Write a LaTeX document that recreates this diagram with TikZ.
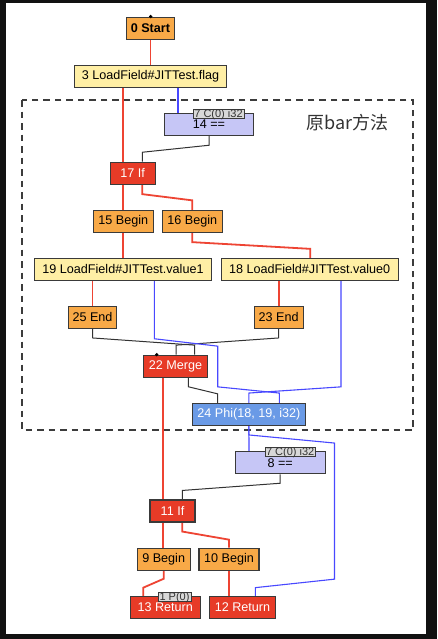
\documentclass[tikz,border=0pt]{standalone}
\usepackage{fontspec}
\setmainfont{Liberation Sans}
\newfontfamily\cjkfont{Noto Sans CJK SC}
\usetikzlibrary{calc}
\pgfdeclarelayer{bglayer}
\pgfdeclarelayer{edgelayer}
\pgfsetlayers{bglayer,edgelayer,main}
\definecolor{framebk}{HTML}{111111}
\definecolor{nodeborder}{HTML}{3A3A3A}
\definecolor{orangefill}{HTML}{F8A947}
\definecolor{yellowfill}{HTML}{FFEFA5}
\definecolor{lavfill}{HTML}{C6C6F6}
\definecolor{redfill}{HTML}{E73B27}
\definecolor{phifill}{HTML}{6A9AE6}
\definecolor{rededge}{HTML}{EE4433}
\definecolor{blueedge}{HTML}{4848FF}
\definecolor{blackedge}{HTML}{333333}
\definecolor{dashgray}{HTML}{3C3C3C}
\definecolor{labelfill}{HTML}{D8D8D8}
\begin{document}
\begin{tikzpicture}[x=1pt,y=-1pt,
  box/.style={draw=nodeborder, line width=1.1pt, inner sep=0pt, minimum height=22pt,
    font=\fontsize{12.6}{14}\selectfont, text=black},
  onode/.style={box, fill=orangefill},
  ynode/.style={box, fill=yellowfill},
  lnode/.style={box, fill=lavfill},
  rnode/.style={box, fill=redfill, text=white},
  pnode/.style={box, fill=phifill, text=white},
  tag/.style={draw=nodeborder, line width=0.8pt, fill=labelfill, inner sep=0pt,
    text height=7.6pt, text depth=1.4pt, text=black!80, font=\fontsize{11}{11}\selectfont},
  redge/.style={draw=rededge, line width=1.8pt},
  bedge/.style={draw=blackedge, line width=1pt},
  dedge/.style={draw=blueedge, line width=1.1pt},
  groupbox/.style={draw=dashgray, line width=1.8pt, dash pattern=on 6.5pt off 5pt}
]
\useasboundingbox (0,0) rectangle (437,639);
\begin{pgfonlayer}{bglayer}
\fill[framebk] (0,0) rectangle (437,639);
\fill[white] (6,3) rectangle (426,634);
% group box
\draw[groupbox] (21.7,100.2) rectangle (413.3,429.9);
\end{pgfonlayer}
\node[text=black!80, font=\cjkfont\fontsize{18}{20}\selectfont, inner sep=0pt] (grp) at (347.5,122.5) {原bar方法};

% nodes
\node[onode, minimum width=47.3pt] (start) at (150.4,28.1) {\textbf{0 Start}};
\node[ynode, minimum width=152.4pt] (flag) at (150.5,76.2) {3 LoadField\#JITTest.flag};
\node[lnode, minimum width=89.4pt] (n14) at (209,124.3) {14 ==};
\node[rnode, minimum width=45.3pt] (n17) at (132.7,173.2) {17 If};
\node[onode, minimum width=60pt] (n15) at (123.3,221.3) {15 Begin};
\node[onode, minimum width=60pt] (n16) at (192.3,221.3) {16 Begin};
\node[ynode, minimum width=177.4pt] (n19) at (123,269.4) {19 LoadField\#JITTest.value1};
\node[ynode, minimum width=177.3pt] (n18) at (309.7,269.4) {18 LoadField\#JITTest.value0};
\node[onode, minimum width=48.4pt] (n25) at (92.5,317.4) {25 End};
\node[onode, minimum width=48.7pt] (n23) at (278.7,317.4) {23 End};
\node[rnode, minimum width=64.4pt] (n22) at (175.5,366.2) {22 Merge};
\node[pnode, minimum width=112.3pt] (n24) at (248.9,414.4) {24 Phi(18, 19, i32)};
\node[lnode, minimum width=89.7pt] (n8) at (280.2,462.7) {8 ==};
\node[rnode, minimum width=45pt] (n11) at (172.5,511) {11 If};
\node[onode, minimum width=52.7pt] (n9) at (163.7,559.2) {9 Begin};
\node[onode, minimum width=60pt] (n10) at (229,559.2) {10 Begin};
\node[rnode, minimum width=70.3pt] (n13) at (165.2,607.4) {13 Return};
\node[rnode, minimum width=66.4pt] (n12) at (242.5,607.4) {12 Return};

\begin{pgfonlayer}{edgelayer}
% control-flow edges (red)
\draw[redge] (flag.north |- start.south) -- (flag.north);
\draw[redge] ([xshift=-27.2pt]flag.south) -- ([xshift=-9.4pt]n17.north);
\draw[redge] ([xshift=-9.4pt]n17.south) -- (n15.north);
\draw[redge] ([xshift=9.6pt]n17.south) -- ++(0,9.4) -- ([yshift=9.4pt]n16.north) -- (n16.north);
\draw[redge] (n15.south) -- (n15.south |- n19.north);
\draw[redge] (n16.south) -- ++(0,9.3) -- ([xshift=0.6pt,yshift=9pt]n18.north) -- ([xshift=0.6pt]n18.north);
\draw[redge] (n25.north |- n19.south) -- (n25.north);
\draw[redge] (n23.north |- n18.south) -- (n23.north);
\draw[redge] ([xshift=-12.2pt]n22.south) -- ([xshift=-9.2pt]n11.north);
\draw[redge] ([xshift=-9.2pt]n11.south) -- ([xshift=-0.4pt]n9.north);
\draw[redge] ([xshift=9.8pt]n11.south) -- ++(0,9) -- ([yshift=8pt]n10.north) -- (n10.north);
\draw[redge] (n9.south) -- ++(0,8) -- ([xshift=-21.9pt,yshift=8.2pt]n13.north) -- ([xshift=-21.9pt]n13.north);
\draw[redge] (n10.south) -- ([xshift=-13.5pt]n12.north);

% black edges
\draw[bedge] (n14.south) -- ++(0,9.4) -- ([xshift=9.6pt,yshift=9.4pt]n17.north) -- ([xshift=9.6pt]n17.north);
\draw[bedge] (n25.south) -- ++(0,9) -- ([xshift=19.2pt,yshift=9.5pt]n22.north) -- ([xshift=19.2pt]n22.north);
\draw[bedge] (n23.south) -- ++(0,9) -- ([xshift=0.5pt,yshift=9.5pt]n22.north) -- ([xshift=0.5pt]n22.north);
\draw[bedge] ([xshift=12.8pt]n22.south) -- ++(0,9) -- ([xshift=-31.2pt,yshift=9pt]n24.north) -- ([xshift=-31.2pt]n24.north);
\draw[bedge] (n8.south) -- ++(0,9) -- ([xshift=9.8pt,yshift=9pt]n11.north) -- ([xshift=9.8pt]n11.north);

% data edges (blue)
\draw[dedge] ([xshift=27.5pt]flag.south) -- ([xshift=-31pt]n14.north);
\draw[dedge] ([xshift=31.3pt]n19.south) -- ++(0,57.8) -- ++(63.4,7.4) -- ++(0,40.7)
  -- ([xshift=30.4pt,yshift=9.8pt]n24.north) -- ([xshift=30.4pt]n24.north);
\draw[dedge] ([xshift=31.3pt]n18.south) -- ++(0,105.9) -- ([yshift=9.8pt]n24.north) -- (n24.north);
\draw[dedge] (n24.south) -- ([xshift=-31.2pt]n8.north);
\draw[dedge] (n24.south) -- ++(0,9) -- ++(85.6,8.1) -- ++(0,136.1)
  -- ([xshift=12.8pt,yshift=8.2pt]n12.north) -- ([xshift=12.8pt]n12.north);
\end{pgfonlayer}

% tags
\node[tag, minimum width=51pt] (t14) at ([xshift=9.5pt,yshift=-1.2pt]n14.north) {7 C(0) i32};
\node[tag, minimum width=50.3pt] (t8) at ([xshift=10pt,yshift=-0.8pt]n8.north) {7 C(0) i32};
\node[tag, minimum width=33pt] (t13) at ([xshift=9.3pt,yshift=-1.5pt]n13.north) {1 P(0)};

% dots
\fill[black] ([xshift=0.3pt]start.north) circle (1.8pt);
\fill[black] ([xshift=-18.8pt]n22.north) circle (1.8pt);
\end{tikzpicture}
\end{document}
